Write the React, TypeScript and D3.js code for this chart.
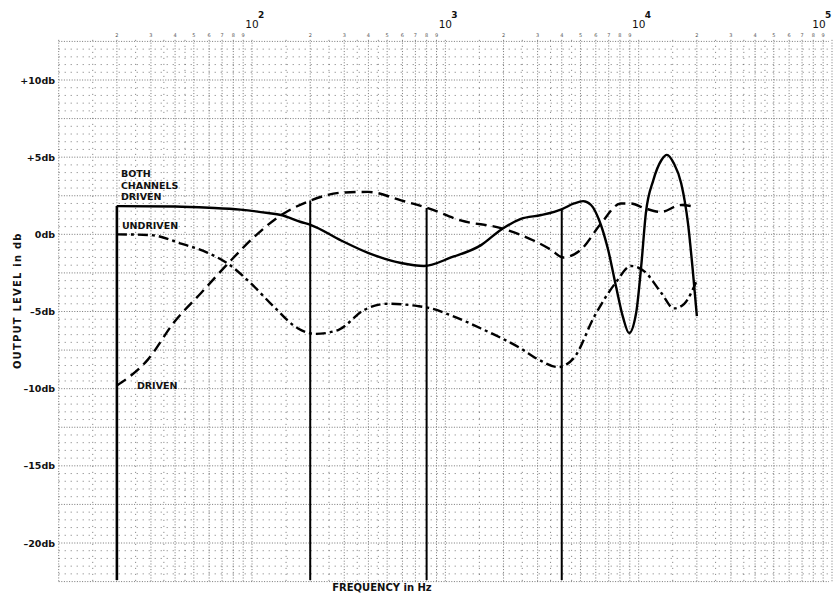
import { useEffect, useRef } from "react";
import * as d3 from "d3";

type Pt = [number, number];

// [frequency Hz, output level db]
const bothDriven: Pt[] = [
  [20, 1.83], [40, 1.8], [60, 1.72], [87, 1.6], [121, 1.38], [141, 1.25],
  [179, 0.8], [202, 0.6], [289, -0.4], [398, -1.2], [590, -1.86], [776, -2.05],
  [1070, -1.5], [1530, -0.7], [1940, 0.3], [2460, 1.0], [3130, 1.25], [4020, 1.64],
  [4630, 2.0], [5160, 2.15], [5670, 1.9], [6240, 0.93], [6950, -1.0], [7640, -3.4],
  [8310, -5.4], [8920, -6.4], [9700, -5.1], [10300, -2.1], [10900, 1.4], [11900, 3.5],
  [13100, 4.8], [14000, 5.15], [15200, 4.6], [16600, 3.3], [18000, 0.7], [19100, -2.5],
  [20000, -5.3],
];

const undriven: Pt[] = [
  [20, 0], [30, -0.05], [43, -0.6], [59, -1.2], [75, -1.9], [99, -3.2],
  [130, -4.7], [173, -6.1], [214, -6.45], [279, -6.2], [380, -4.9], [505, -4.5],
  [722, -4.65], [843, -4.8], [1045, -5.2], [1530, -6.1], [2460, -7.4], [3020, -8.1],
  [3830, -8.6], [4630, -8.0], [5880, -5.35], [7640, -3.1], [9140, -2.05], [10700, -2.4],
  [13100, -3.8], [15200, -4.8], [17200, -4.5], [19800, -3.1],
];

const driven: Pt[] = [
  [20, -9.8], [29, -8.1], [39.5, -5.7], [54.5, -3.8], [75, -1.9], [102, -0.2],
  [136, 1.1], [202, 2.2], [289, 2.7], [398, 2.75], [590, 2.2], [812, 1.7],
  [1200, 0.9], [1940, 0.4], [2860, -0.4], [3520, -1.0], [4070, -1.5], [5020, -1.0],
  [6380, 0.7], [8100, 2.0], [9100, 2.0], [10700, 1.7], [13000, 1.45], [16600, 1.9],
  [19800, 1.77],
];

const markerFreqs = [20, 200, 800, 4000];
const markerTops = [1.83, 2.2, 1.7, 1.64];

const yTicks = [10, 5, 0, -5, -10, -15, -20];
const yTickLabels = ["+10db", "+5db", "0db", "–5db", "–10db", "–15db", "–20db"];
const decadeExps = [2, 3, 4, 5];
const minorDigits = [2, 3, 4, 5, 6, 7, 8, 9];

const W = 836;
const H = 593;
const FONT = "'DejaVu Sans', sans-serif";

const App = () => {
  const svgRef = useRef<SVGSVGElement | null>(null);

  useEffect(() => {
    if (!svgRef.current) return;
    const svg = d3.select(svgRef.current);
    svg.selectAll("*").remove();

    const x = d3.scaleLog().domain([10, 100000]).range([58.7, 832]);
    const y = d3.scaleLinear().domain([-20, 10]).range([543, 80]);

    const dbTop = 12.6;
    const dbBot = -22.5;
    const gx0 = x(10);
    const gx1 = 829;

    svg.append("rect").attr("width", W).attr("height", H).attr("fill", "#fff");

    // dotted graph-paper grid
    const grid = svg.append("g").attr("fill", "none");
    const minorDb = d3.range(dbBot, dbTop + 0.01, 0.5);
    grid
      .selectAll("line.hmin")
      .data(minorDb)
      .join("line")
      .attr("x1", gx0)
      .attr("x2", gx1)
      .attr("y1", (d) => y(d))
      .attr("y2", (d) => y(d))
      .attr("stroke", "#555")
      .attr("stroke-width", 0.8)
      .attr("stroke-dasharray", (d) => (Math.abs(d % 2.5) < 0.01 ? "1,1.6" : "1,5"));

    const vLines: { f: number; major: boolean }[] = [];
    for (let e = 1; e <= 4; e++) {
      for (let m = 1; m <= 9; m++) vLines.push({ f: m * 10 ** e, major: true });
      [1.5, 2.5, 3.5, 4.5].forEach((m) => vLines.push({ f: m * 10 ** e, major: false }));
    }
    vLines.push({ f: 100000, major: true });
    grid
      .selectAll("line.v")
      .data(vLines)
      .join("line")
      .attr("x1", (d) => x(d.f))
      .attr("x2", (d) => x(d.f))
      .attr("y1", y(dbTop))
      .attr("y2", y(dbBot))
      .attr("stroke", "#555")
      .attr("stroke-width", 0.8)
      .attr("stroke-dasharray", (d) => (d.major ? "1,1.8" : "1,5"));

    // tiny multiplier digits along the top
    const digits: { f: number; t: string }[] = [];
    for (let e = 1; e <= 4; e++) minorDigits.forEach((m) => digits.push({ f: m * 10 ** e, t: String(m) }));
    svg
      .append("g")
      .selectAll("text")
      .data(digits)
      .join("text")
      .attr("x", (d) => x(d.f))
      .attr("y", y(dbTop) - 3)
      .attr("text-anchor", "middle")
      .attr("font-family", FONT)
      .attr("font-size", 5)
      .attr("fill", "#555")
      .text((d) => d.t);

    // decade labels (last one pulled in so it stays on the page)
    const dec = svg.append("g").attr("font-family", FONT).attr("fill", "#111");
    decadeExps.forEach((e) => {
      const cx = Math.min(x(10 ** e), 819);
      dec.append("text").attr("x", cx).attr("y", 28).attr("text-anchor", "middle").attr("font-size", 10.5).text("10");
      dec.append("text").attr("x", cx + 6).attr("y", 18).attr("font-size", 9).attr("font-weight", "bold").text(String(e));
    });

    // y tick labels
    svg
      .append("g")
      .selectAll("text")
      .data(yTicks)
      .join("text")
      .attr("x", 55)
      .attr("y", (d) => y(d) + 3.5)
      .attr("text-anchor", "end")
      .attr("font-family", FONT)
      .attr("font-size", 9.5)
      .attr("font-weight", "bold")
      .attr("fill", "#111")
      .text((_, i) => yTickLabels[i]);

    // axis titles
    svg
      .append("text")
      .attr("transform", `translate(21,${y(-4.3)}) rotate(-90)`)
      .attr("text-anchor", "middle")
      .attr("font-family", FONT)
      .attr("font-size", 10)
      .attr("font-weight", "bold")
      .attr("letter-spacing", 1.2)
      .attr("fill", "#111")
      .text("OUTPUT LEVEL in db");
    svg
      .append("text")
      .attr("x", x(470))
      .attr("y", 591)
      .attr("text-anchor", "middle")
      .attr("font-family", FONT)
      .attr("font-size", 10)
      .attr("font-weight", "bold")
      .attr("fill", "#111")
      .text("FREQUENCY in Hz");

    // marker verticals
    svg
      .append("g")
      .selectAll("line")
      .data(markerFreqs)
      .join("line")
      .attr("x1", (d) => x(d))
      .attr("x2", (d) => x(d))
      .attr("y1", (_, i) => y(markerTops[i]))
      .attr("y2", 580)
      .attr("stroke", "#000")
      .attr("stroke-width", (_, i) => (i === 0 ? 2.6 : 2));

    const line = d3
      .line<Pt>()
      .x((d) => x(d[0]))
      .y((d) => y(d[1]))
      .curve(d3.curveMonotoneX);

    const curves = svg.append("g").attr("fill", "none").attr("stroke", "#000").attr("stroke-width", 2.4);
    curves.append("path").datum(bothDriven).attr("d", line).attr("stroke-linejoin", "round");
    curves.append("path").datum(undriven).attr("d", line).attr("stroke-dasharray", "10,4,3,4");
    curves.append("path").datum(driven).attr("d", line).attr("stroke-dasharray", "11,6");

    // curve labels
    const lab = svg
      .append("g")
      .attr("font-family", FONT)
      .attr("font-size", 9.5)
      .attr("font-weight", "bold")
      .attr("fill", "#111");
    const lx = x(20) + 4;
    lab.append("text").attr("x", lx).attr("y", 177).text("BOTH");
    lab.append("text").attr("x", lx).attr("y", 188.5).text("CHANNELS");
    lab.append("text").attr("x", lx).attr("y", 199.5).text("DRIVEN");
    lab.append("text").attr("x", lx + 1).attr("y", 228.5).text("UNDRIVEN");
    lab.append("text").attr("x", lx + 16).attr("y", 388.5).text("DRIVEN");
  }, []);

  return (
    <svg
      ref={svgRef}
      width={W}
      height={H}
      viewBox={`0 0 ${W} ${H}`}
      style={{ display: "block", position: "absolute", left: 0, top: 0 }}
    />
  );
};

export default App;
